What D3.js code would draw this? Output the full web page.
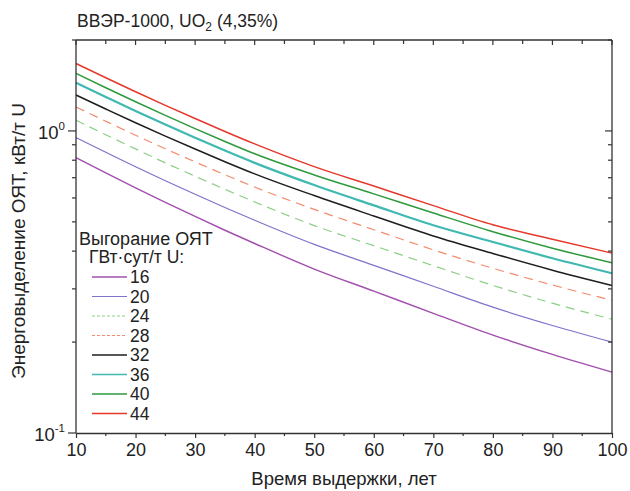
<!DOCTYPE html>
<html>
<head>
<meta charset="utf-8">
<script src="https://cdn.jsdelivr.net/npm/d3@7"></script>
<style>
  body { margin: 0; background: #fff; }
  svg { font-family: "Liberation Sans", Arial, sans-serif; }
</style>
</head>
<body>
<div id="vis"></div>
<script>
// Data
const YEARS = [10, 15, 20, 25, 30, 35, 40, 50, 60, 70, 80, 90, 100];
const BURNUPS = ["16", "20", "24", "28", "32", "36", "40", "44"];
const S16 = [0.815, 0.726, 0.648, 0.580, 0.521, 0.469, 0.424, 0.349, 0.295, 0.249, 0.211, 0.182, 0.159];
const S20 = [0.950, 0.850, 0.761, 0.684, 0.617, 0.558, 0.506, 0.421, 0.359, 0.306, 0.261, 0.227, 0.200];
const S24 = [1.085, 0.971, 0.872, 0.784, 0.708, 0.641, 0.582, 0.486, 0.417, 0.358, 0.308, 0.269, 0.238];
const S28 = [1.200, 1.077, 0.968, 0.873, 0.790, 0.716, 0.652, 0.550, 0.471, 0.404, 0.351, 0.309, 0.275];
const S32 = [1.315, 1.182, 1.064, 0.961, 0.871, 0.791, 0.721, 0.611, 0.523, 0.449, 0.393, 0.346, 0.308];
const S36 = [1.443, 1.295, 1.164, 1.050, 0.950, 0.861, 0.784, 0.662, 0.567, 0.487, 0.429, 0.379, 0.338];
const S40 = [1.550, 1.390, 1.249, 1.126, 1.018, 0.923, 0.840, 0.715, 0.619, 0.535, 0.464, 0.409, 0.366];
const S44 = [1.672, 1.500, 1.348, 1.215, 1.099, 0.996, 0.906, 0.762, 0.657, 0.566, 0.489, 0.438, 0.394];
const X_TICKS = [10, 20, 30, 40, 50, 60, 70, 80, 90, 100];

const SERIES = [S16, S20, S24, S28, S32, S36, S40, S44];
const COLORS = ["#a24fae", "#7d74cc", "#8ccf86", "#f28c6c", "#1e1e1e", "#3fb9b1", "#2d9a3c", "#e6382b"];
const DASHED = [false, false, true, true, false, false, false, false];
const WIDTHS = [1.4, 1.2, 1.2, 1.2, 1.5, 2.2, 1.5, 1.5];

// frame
const FRAME_WIDTH = 630;
const FRAME_HEIGHT = 491;
const MARGINS = {left: 76, right: 18, top: 40, bottom: 58};

const svg = d3.select("#vis")
              .append("svg")
                .attr("width", FRAME_WIDTH)
                .attr("height", FRAME_HEIGHT);

const X_SCALE = d3.scaleLinear()
                  .domain([10, 100])
                  .range([MARGINS.left, FRAME_WIDTH - MARGINS.right]);
const Y_SCALE = d3.scaleLog()
                  .domain([0.1, 2])
                  .range([FRAME_HEIGHT - MARGINS.bottom, MARGINS.top]);

const x0 = X_SCALE.range()[0], x1 = X_SCALE.range()[1];
const y0 = Y_SCALE.range()[0], y1 = Y_SCALE.range()[1];

// curves
const line = d3.line()
               .x((d) => X_SCALE(d[0]))
               .y((d) => Y_SCALE(d[1]))
               .curve(d3.curveMonotoneX);

SERIES.forEach((s, i) => {
  svg.append("path")
     .datum(YEARS.map((yr, j) => [yr, s[j]]))
     .attr("d", line)
     .attr("fill", "none")
     .attr("stroke", COLORS[i])
     .attr("stroke-width", WIDTHS[i])
     .attr("stroke-dasharray", DASHED[i] ? "9,6" : null);
});

// ticks
const minorX = d3.range(15, 100, 10);
const minorY = [0.2, 0.3, 0.4, 0.5, 0.6, 0.7, 0.8, 0.9, 2];
const tickColor = "#333";

// bottom axis
svg.append("g")
   .attr("transform", "translate(0," + y0 + ")")
   .call(d3.axisBottom(X_SCALE).tickValues(X_TICKS).tickSize(5).tickSizeOuter(0).tickPadding(5))
   .call((g) => g.select(".domain").attr("stroke", tickColor).attr("stroke-width", 1.3))
   .call((g) => g.selectAll(".tick line").attr("stroke", tickColor).attr("stroke-width", 1.2))
   .call((g) => g.selectAll(".tick text").attr("font-size", "18px").attr("fill", "#222")
                 .attr("font-family", "Liberation Sans, Arial, sans-serif"));
svg.append("g")
   .selectAll("line")
   .data(minorX)
   .enter()
   .append("line")
     .attr("x1", (d) => X_SCALE(d)).attr("x2", (d) => X_SCALE(d))
     .attr("y1", y0).attr("y2", y0 + 3)
     .attr("stroke", tickColor).attr("stroke-width", 1.2);

// top axis (inner ticks)
svg.append("line")
   .attr("x1", x0).attr("x2", x1).attr("y1", y1).attr("y2", y1)
   .attr("stroke", tickColor).attr("stroke-width", 1.3);
svg.append("g")
   .selectAll("line")
   .data(X_TICKS.concat(minorX))
   .enter()
   .append("line")
     .attr("x1", (d) => X_SCALE(d)).attr("x2", (d) => X_SCALE(d))
     .attr("y1", y1).attr("y2", (d) => y1 + (d % 10 === 0 ? 5 : 4))
     .attr("stroke", tickColor).attr("stroke-width", 1.2);

// left axis
svg.append("line")
   .attr("x1", x0).attr("x2", x0).attr("y1", y0).attr("y2", y1)
   .attr("stroke", tickColor).attr("stroke-width", 1.3);
svg.append("g")
   .selectAll("line")
   .data([0.1, 1].concat(minorY))
   .enter()
   .append("line")
     .attr("x1", (d) => x0 - ((d === 0.1 || d === 1) ? 8 : 4)).attr("x2", x0)
     .attr("y1", (d) => Y_SCALE(d)).attr("y2", (d) => Y_SCALE(d))
     .attr("stroke", tickColor).attr("stroke-width", 1.2);

// right axis (inner ticks)
svg.append("line")
   .attr("x1", x1).attr("x2", x1).attr("y1", y0).attr("y2", y1)
   .attr("stroke", tickColor).attr("stroke-width", 1.3);
svg.append("g")
   .selectAll("line")
   .data([1].concat(minorY))
   .enter()
   .append("line")
     .attr("x1", (d) => x1 - (d === 1 ? 7 : 4)).attr("x2", x1)
     .attr("y1", (d) => Y_SCALE(d)).attr("y2", (d) => Y_SCALE(d))
     .attr("stroke", tickColor).attr("stroke-width", 1.2);

// y tick labels 10^0 and 10^-1
[[1, "0"], [0.1, "-1"]].forEach((p) => {
  const t = svg.append("text")
               .attr("x", x0 - 11)
               .attr("y", Y_SCALE(p[0]) + 8)
               .attr("text-anchor", "end")
               .attr("font-size", "18.5px")
               .attr("fill", "#222");
  t.append("tspan").text("10");
  t.append("tspan").attr("dy", -9).attr("font-size", "11.5px").text(p[1]);
});

// title
const title = svg.append("text")
                 .attr("x", 77).attr("y", 27)
                 .attr("font-size", "17.5px")
                 .attr("fill", "#222");
title.append("tspan").text("ВВЭР-1000, UO");
title.append("tspan").attr("dy", 4).attr("font-size", "12px").text("2");
title.append("tspan").attr("dy", -4).text(" (4,35%)");

// axis titles
svg.append("text")
   .attr("x", (x0 + x1) / 2).attr("y", 485)
   .attr("text-anchor", "middle")
   .attr("font-size", "18.5px")
   .attr("fill", "#222")
   .text("Время выдержки, лет");

svg.append("text")
   .attr("transform", "translate(25,241) rotate(-90)")
   .attr("text-anchor", "middle")
   .attr("font-size", "19px")
   .attr("fill", "#222")
   .text("Энерговыделение ОЯТ, кВт/т U");

// legend
const LEG_X = 92, LEG_Y = 277, LEG_STEP = 19.5;
svg.append("text")
   .attr("x", 79).attr("y", 244.5)
   .attr("font-size", "18px").attr("fill", "#222")
   .text("Выгорание ОЯТ");
svg.append("text")
   .attr("x", 89).attr("y", 263)
   .attr("font-size", "17.5px").attr("fill", "#222")
   .text("ГВт·сут/т U:");

const legend = svg.append("g")
                  .selectAll("g")
                  .data(BURNUPS)
                  .enter()
                  .append("g")
                    .attr("transform", (d, i) => "translate(" + LEG_X + "," + (LEG_Y + i * LEG_STEP) + ")");
legend.append("line")
      .attr("x1", 0).attr("x2", 35)
      .attr("stroke", (d, i) => COLORS[i])
      .attr("stroke-width", (d, i) => Math.min(WIDTHS[i], 1.6))
      .attr("stroke-dasharray", (d, i) => DASHED[i] ? "3,2" : null);
legend.append("text")
      .attr("x", 38).attr("y", 6.2)
      .attr("font-size", "17.5px").attr("fill", "#222")
      .text((d) => d);
</script>
</body>
</html>
